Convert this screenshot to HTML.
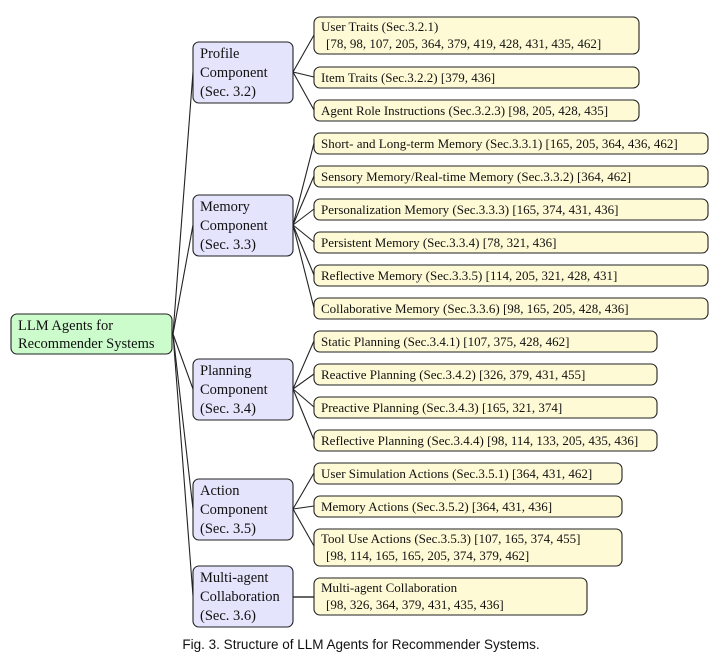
<!DOCTYPE html>
<html><head><meta charset="utf-8"><style>
html,body{margin:0;padding:0;background:#fff;}
svg{display:block;}
text{font-family:"Liberation Serif",serif;fill:#111;}
.l{font-size:13px;}
.c{font-size:14.5px;}
.cap{font-family:"Liberation Sans",sans-serif;font-size:13.5px;}
</style></head><body>
<svg width="722" height="666" viewBox="0 0 722 666" xmlns="http://www.w3.org/2000/svg">
<g stroke="#222" stroke-width="1.1" fill="none">
<!-- root to components -->
<line x1="173" y1="334" x2="193" y2="72"/>
<line x1="173" y1="334" x2="193" y2="225"/>
<line x1="173" y1="334" x2="193" y2="389"/>
<line x1="173" y1="334" x2="193" y2="509"/>
<line x1="173" y1="334" x2="193" y2="596"/>
<!-- profile -->
<line x1="293" y1="72" x2="314" y2="35"/>
<line x1="293" y1="72" x2="314" y2="77"/>
<line x1="293" y1="72" x2="314" y2="110"/>
<!-- memory -->
<line x1="293" y1="225" x2="314" y2="143"/>
<line x1="293" y1="225" x2="314" y2="176"/>
<line x1="293" y1="225" x2="314" y2="209"/>
<line x1="293" y1="225" x2="314" y2="242"/>
<line x1="293" y1="225" x2="314" y2="275"/>
<line x1="293" y1="225" x2="314" y2="308"/>
<!-- planning -->
<line x1="293" y1="389" x2="314" y2="341"/>
<line x1="293" y1="389" x2="314" y2="374"/>
<line x1="293" y1="389" x2="314" y2="407"/>
<line x1="293" y1="389" x2="314" y2="440"/>
<!-- action -->
<line x1="293" y1="509" x2="314" y2="473"/>
<line x1="293" y1="509" x2="314" y2="506"/>
<line x1="293" y1="509" x2="314" y2="546"/>
</g>
<line x1="293" y1="597" x2="314" y2="597" stroke="#666" stroke-width="2"/>
<g stroke="#222" stroke-width="1.1">
<rect x="11" y="314" width="161" height="40" rx="6" fill="#ccfccc"/>
<rect x="193" y="42" width="100" height="61" rx="6" fill="#e4e4fc"/>
<rect x="193" y="195" width="100" height="61" rx="6" fill="#e4e4fc"/>
<rect x="193" y="359" width="100" height="61" rx="6" fill="#e4e4fc"/>
<rect x="193" y="479" width="100" height="61" rx="6" fill="#e4e4fc"/>
<rect x="193" y="566" width="100" height="61" rx="6" fill="#e4e4fc"/>
<g fill="#fffad6">
<rect x="314" y="17" width="325" height="37" rx="6"/>
<rect x="314" y="67" width="325" height="21" rx="6"/>
<rect x="314" y="100" width="325" height="21" rx="6"/>
<rect x="314" y="133" width="394" height="21" rx="6"/>
<rect x="314" y="166" width="394" height="21" rx="6"/>
<rect x="314" y="199" width="394" height="21" rx="6"/>
<rect x="314" y="232" width="394" height="21" rx="6"/>
<rect x="314" y="265" width="394" height="21" rx="6"/>
<rect x="314" y="298" width="394" height="21" rx="6"/>
<rect x="314" y="331" width="343" height="21" rx="6"/>
<rect x="314" y="364" width="343" height="21" rx="6"/>
<rect x="314" y="397" width="343" height="21" rx="6"/>
<rect x="314" y="430" width="343" height="21" rx="6"/>
<rect x="314" y="463" width="308" height="21" rx="6"/>
<rect x="314" y="496" width="308" height="21" rx="6"/>
<rect x="314" y="529" width="308" height="37" rx="6"/>
<rect x="314" y="578" width="273" height="37" rx="6"/>
</g>
</g>
<text class="c" x="18" y="330">LLM Agents for</text>
<text class="c" x="18" y="348">Recommender Systems</text>
<text class="c" x="200" y="58">Profile</text><text class="c" x="200" y="77">Component</text><text class="c" x="200" y="96">(Sec. 3.2)</text>
<text class="c" x="200" y="211">Memory</text><text class="c" x="200" y="230">Component</text><text class="c" x="200" y="249">(Sec. 3.3)</text>
<text class="c" x="200" y="375">Planning</text><text class="c" x="200" y="394">Component</text><text class="c" x="200" y="413">(Sec. 3.4)</text>
<text class="c" x="200" y="495">Action</text><text class="c" x="200" y="514">Component</text><text class="c" x="200" y="533">(Sec. 3.5)</text>
<text class="c" x="200" y="582">Multi-agent</text><text class="c" x="200" y="601">Collaboration</text><text class="c" x="200" y="620">(Sec. 3.6)</text>
<text class="l" x="321" y="31">User Traits (Sec.3.2.1)</text>
<text class="l" x="326" y="48">[78, 98, 107, 205, 364, 379, 419, 428, 431, 435, 462]</text>
<text class="l" x="321" y="82">Item Traits (Sec.3.2.2) [379, 436]</text>
<text class="l" x="321" y="115">Agent Role Instructions (Sec.3.2.3) [98, 205, 428, 435]</text>
<text class="l" x="321" y="148">Short- and Long-term Memory (Sec.3.3.1) [165, 205, 364, 436, 462]</text>
<text class="l" x="321" y="181">Sensory Memory/Real-time Memory (Sec.3.3.2) [364, 462]</text>
<text class="l" x="321" y="214">Personalization Memory (Sec.3.3.3) [165, 374, 431, 436]</text>
<text class="l" x="321" y="247">Persistent Memory (Sec.3.3.4) [78, 321, 436]</text>
<text class="l" x="321" y="280">Reflective Memory (Sec.3.3.5) [114, 205, 321, 428, 431]</text>
<text class="l" x="321" y="313">Collaborative Memory (Sec.3.3.6) [98, 165, 205, 428, 436]</text>
<text class="l" x="321" y="346">Static Planning (Sec.3.4.1) [107, 375, 428, 462]</text>
<text class="l" x="321" y="379">Reactive Planning (Sec.3.4.2) [326, 379, 431, 455]</text>
<text class="l" x="321" y="412">Preactive Planning (Sec.3.4.3) [165, 321, 374]</text>
<text class="l" x="321" y="445">Reflective Planning (Sec.3.4.4) [98, 114, 133, 205, 435, 436]</text>
<text class="l" x="321" y="478">User Simulation Actions (Sec.3.5.1) [364, 431, 462]</text>
<text class="l" x="321" y="511">Memory Actions (Sec.3.5.2) [364, 431, 436]</text>
<text class="l" x="321" y="543">Tool Use Actions (Sec.3.5.3) [107, 165, 374, 455]</text>
<text class="l" x="326" y="560">[98, 114, 165, 165, 205, 374, 379, 462]</text>
<text class="l" x="321" y="592">Multi-agent Collaboration</text>
<text class="l" x="326" y="609">[98, 326, 364, 379, 431, 435, 436]</text>
<text class="cap" x="361" y="649" text-anchor="middle">Fig. 3.  Structure of LLM Agents for Recommender Systems.</text>
</svg>
</body></html>
